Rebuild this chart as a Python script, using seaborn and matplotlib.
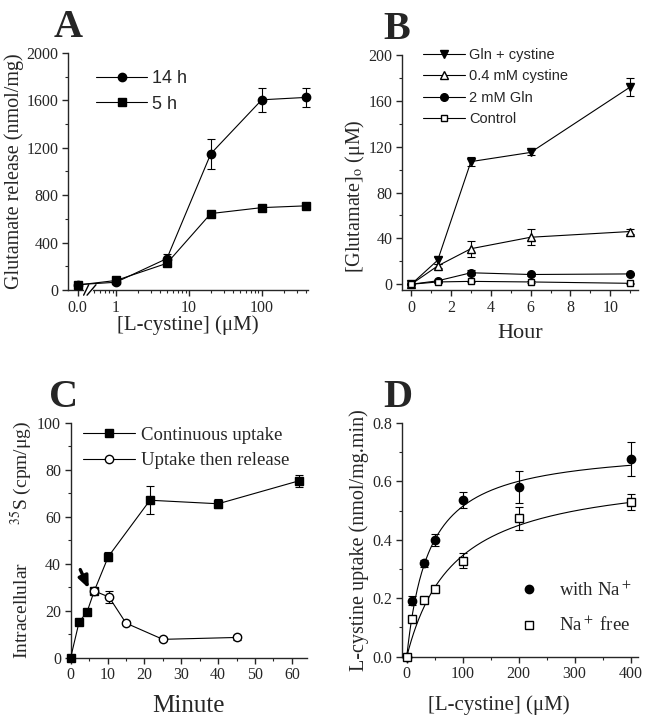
import numpy as np
import pandas as pd
import seaborn as sns
import matplotlib.pyplot as plt
from matplotlib.ticker import FixedLocator, MultipleLocator, NullFormatter

sns.set_style("ticks")
plt.rcParams["font.family"] = ["Liberation Serif", "DejaVu Serif"]
plt.rcParams["mathtext.fontset"] = "stix"
plt.rcParams["xtick.direction"] = "out"
plt.rcParams["ytick.direction"] = "out"
plt.rcParams["axes.linewidth"] = 1.0

# ---- panel A: glutamate release vs cystine
a_x = [0, 1, 5, 20, 100, 400]
a_14h = [45, 65, 265, 1150, 1605, 1625]
a_14h_err = [10, 12, 38, 128, 100, 80]
a_5h = [42, 80, 225, 645, 695, 710]
a_5h_err = [8, 10, 15, 18, 18, 22]

# ---- panel B: glutamate over time
b_hour = [0, 1.33, 3, 6, 11]
b_glncys = [0, 21, 107, 115, 172]
b_glncys_err = [0, 3, 4, 2, 8]
b_cys = [0, 16, 31, 41, 46]
b_cys_err = [0, 2, 7, 7, 2]
b_gln = [0, 3, 10, 8.5, 9]
b_gln_err = [0, 1, 2, 1, 1]
b_ctrl = [0, 2, 2.5, 2, 0.8]
b_ctrl_err = [0, 0.5, 0.5, 0.5, 0.5]

# ---- panel C: intracellular 35S
c_cont_min = [0, 2.3, 4.4, 6.4, 10.2, 21.5, 40, 62]
c_cont = [0, 15.3, 19.3, 28.4, 43, 67, 65.5, 75.3]
c_cont_err = [0, 1, 1, 1, 2, 6, 2, 2.5]
c_rel_min = [6.4, 10.4, 15, 25, 45]
c_rel = [28.4, 25.8, 14.7, 7.8, 8.6]
c_rel_err = [1.2, 2.5, 0.8, 0.8, 1.0]

# ---- panel D: cystine uptake kinetics
d_x = [0, 10, 30, 50, 100, 200, 400]
d_na = [0, 0.191, 0.319, 0.399, 0.536, 0.581, 0.676]
d_na_err = [0, 0.015, 0.012, 0.022, 0.028, 0.055, 0.058]
d_free = [0, 0.128, 0.194, 0.230, 0.328, 0.473, 0.530]
d_free_err = [0, 0.01, 0.01, 0.01, 0.025, 0.04, 0.027]
# Michaelis-Menten fit parameters (Vmax, Km)
fit_na = (0.72, 40.0)
fit_free = (0.64, 85.0)

fig = plt.figure(figsize=(6.49, 7.19), dpi=100)
axA = fig.add_axes([0.1048, 0.5967, 0.3698, 0.3296])
axB = fig.add_axes([0.6199, 0.5967, 0.3632, 0.3268])
axC = fig.add_axes([0.1089, 0.0853, 0.3636, 0.3268])
axD = fig.add_axes([0.6190, 0.0866, 0.3646, 0.3254])

lw = 0.8
cap = 3


def series(ax, x, y, err, marker, filled, label, ms=6, line=True):
    fc = "black" if filled else "white"
    df = pd.DataFrame({"x": x, "y": y})
    sns.lineplot(data=df, x="x", y="y", ax=ax, color="black", lw=lw if line else 0,
                 marker=marker, markersize=ms, markerfacecolor=fc,
                 markeredgecolor="black", markeredgewidth=1.0, label=label,
                 sort=False, clip_on=False, zorder=3)
    ax.errorbar(x, y, yerr=err, fmt="none", ecolor="black", elinewidth=lw,
                capsize=cap, capthick=lw, zorder=2, clip_on=False)


def clean(ax, xsize=15, ysize=14.5):
    sns.despine(ax=ax)
    ax.tick_params(which="major", length=4.5, width=1, labelsize=11.5, pad=2.5)
    ax.tick_params(which="minor", length=2.5, width=0.8)
    ax.set_xlabel(ax.get_xlabel(), fontsize=xsize, labelpad=2)
    ax.set_ylabel(ax.get_ylabel(), fontsize=ysize, labelpad=2)


# ---------- A
axA.set_xscale("symlog", linthresh=0.5, linscale=0.2)
series(axA, a_x, a_14h, a_14h_err, "o", True, "14 h")
series(axA, a_x, a_5h, a_5h_err, "s", True, "5 h")
axA.set_xlim(-0.3, 430)
axA.set_ylim(0, 2000)
axA.xaxis.set_major_locator(FixedLocator([0, 1, 10, 100]))
axA.set_xticklabels(["0.0", "1", "10", "100"])
minors = [0.5, 0.6, 0.7, 0.8, 0.9] + [k * m for m in (1, 10, 100) for k in range(2, 10)]
axA.xaxis.set_minor_locator(FixedLocator([v for v in minors if v <= 430]))
axA.xaxis.set_minor_formatter(NullFormatter())
axA.yaxis.set_major_locator(MultipleLocator(400))
axA.yaxis.set_minor_locator(MultipleLocator(200))
axA.set_xlabel("[L-cystine] (μM)")
axA.set_ylabel("Glutamate release (nmol/mg)")
clean(axA)
axA.xaxis.labelpad = 0
# axis break
tr = axA.get_xaxis_transform()
axA.plot([0.25, 0.42], [0, 0], transform=tr, color="white", lw=3, clip_on=False, zorder=4)
for xb in (0.26, 0.41):
    axA.plot([xb * 0.7, xb * 1.3], [-0.022, 0.022], transform=tr, color="black",
             lw=1.0, clip_on=False, zorder=5)
axA.legend(loc="upper left", bbox_to_anchor=(0.05, 0.995), frameon=False,
           prop={"family": "Liberation Sans", "size": 13}, handlelength=2.8,
           handletextpad=0.3, labelspacing=0.45)

# ---------- B
series(axB, b_hour, b_glncys, b_glncys_err, "v", True, "Gln + cystine", ms=5.5)
series(axB, b_hour, b_cys, b_cys_err, "^", False, "0.4 mM cystine", ms=5.5)
series(axB, b_hour, b_gln, b_gln_err, "o", True, "2 mM Gln", ms=5.5)
series(axB, b_hour, b_ctrl, b_ctrl_err, "s", False, "Control", ms=5)
axB.set_xlim(-0.45, 11.4)
axB.set_ylim(-5, 200)
axB.xaxis.set_major_locator(MultipleLocator(2))
axB.xaxis.set_minor_locator(MultipleLocator(1))
axB.yaxis.set_major_locator(MultipleLocator(40))
axB.yaxis.set_minor_locator(MultipleLocator(20))
axB.set_xlabel("Hour")
axB.set_ylabel("[Glutamate]$_\\mathrm{o}$ (μM)")
clean(axB, xsize=16)
axB.xaxis.labelpad = 6
axB.yaxis.set_label_coords(-0.15, 0.40)
axB.legend(loc="upper left", bbox_to_anchor=(0.03, 1.085), frameon=False,
           prop={"family": "Liberation Sans", "size": 10.5}, handlelength=2.9,
           handletextpad=0.3, labelspacing=0.5)

# ---------- C
series(axC, c_cont_min, c_cont, c_cont_err, "s", True, "Continuous uptake", ms=6)
series(axC, c_rel_min, c_rel, c_rel_err, "o", False, "Uptake then release", ms=6)
axC.set_xlim(0, 64)
axC.set_ylim(0, 100)
axC.xaxis.set_major_locator(MultipleLocator(10))
axC.xaxis.set_minor_locator(MultipleLocator(5))
axC.yaxis.set_major_locator(MultipleLocator(20))
axC.yaxis.set_minor_locator(MultipleLocator(10))
axC.set_xlabel("Minute")
axC.set_ylabel("Intracellular        $^{35}$S (cpm/μg)")
clean(axC, xsize=18, ysize=14)
axC.xaxis.labelpad = 8
axC.annotate("", xy=(4.9, 29.5), xytext=(2.6, 37.5),
             arrowprops=dict(arrowstyle="-|>,head_length=0.7,head_width=0.3",
                             color="black", lw=2.4, shrinkA=0, shrinkB=0))
axC.legend(loc="upper left", bbox_to_anchor=(-0.02, 1.055), frameon=False,
           prop={"size": 13.5}, handlelength=2.8, handletextpad=0.3, labelspacing=0.45)

# ---------- D
xs = np.linspace(0, 400, 300)
fits = pd.DataFrame({"x": xs,
                     "na": fit_na[0] * xs / (fit_na[1] + xs),
                     "free": fit_free[0] * xs / (fit_free[1] + xs)})
sns.lineplot(data=fits, x="x", y="na", ax=axD, color="black", lw=lw, legend=False)
sns.lineplot(data=fits, x="x", y="free", ax=axD, color="black", lw=lw, legend=False)
series(axD, d_x, d_na, d_na_err, "o", True, "with Na$^+$", ms=6, line=False)
series(axD, d_x, d_free, d_free_err, "s", False, "Na$^+$ free", ms=5.5, line=False)
axD.set_xlim(-9, 414)
axD.set_ylim(0, 0.8)
axD.xaxis.set_major_locator(MultipleLocator(100))
axD.xaxis.set_minor_locator(MultipleLocator(50))
axD.yaxis.set_major_locator(MultipleLocator(0.2))
axD.yaxis.set_minor_locator(MultipleLocator(0.1))
axD.set_xlabel("[L-cystine] (μM)")
axD.set_ylabel("L-cystine uptake (nmol/mg.min)")
clean(axD)
axD.xaxis.set_label_coords(0.41, -0.165)
axD.legend(loc="lower right", bbox_to_anchor=(1.04, 0.02), frameon=False,
           prop={"size": 13.5}, handlelength=1.0, handletextpad=1.1, labelspacing=0.85)

# panel letters
for ax, letter, dx in ((axA, "A", -0.06), (axB, "B", -0.08), (axC, "C", -0.09), (axD, "D", -0.08)):
    ax.text(dx, 1.03, letter, transform=ax.transAxes, fontsize=29,
            fontweight="bold", va="bottom", ha="left")

fig.savefig("out.png", dpi=100)
